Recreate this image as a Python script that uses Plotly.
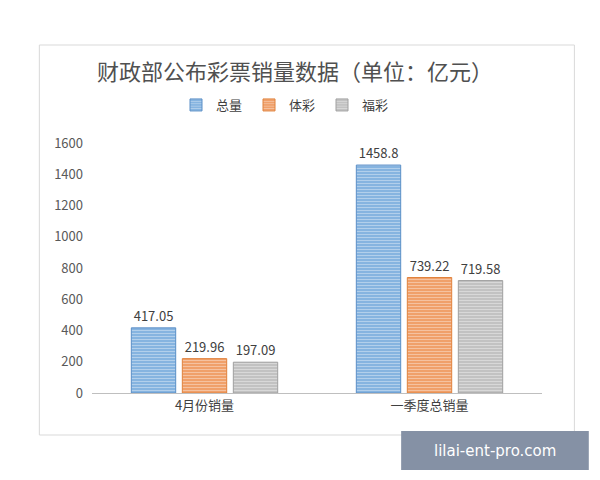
import plotly.graph_objects as go

categories = ["4月份销量", "一季度总销量"]
series_names = ["总量", "体彩", "福彩"]
total = [417.05, 1458.8]
sports = [219.96, 739.22]
welfare = [197.09, 719.58]
y_ticks = [0, 200, 400, 600, 800, 1000, 1200, 1400, 1600]

fills = ["#86B4E0", "#F0A06A", "#C2C2C2"]
edges = ["#5B8FC7", "#E0823D", "#A0A0A0"]

font_cn = "Microsoft YaHei, Noto Sans CJK SC, sans-serif"

fig = go.Figure()
for name, vals, fc, ec in zip(series_names, [total, sports, welfare], fills, edges):
   fig.add_trace(go.Bar(
      x=categories, y=vals, name=name,
      text=[f"{v:g}" for v in vals], textposition="outside",
      textfont=dict(size=13, color="#404040"),
      cliponaxis=False,
      marker=dict(
         color=fc,
         line=dict(color=ec, width=1),
         pattern=dict(shape="-", fgcolor="rgba(255,255,255,0.8)", size=3, solidity=0.3, fillmode="overlay")
      )
   ))

# page body adds ~8px offset, so margins are shifted up/left by 8
fig.update_layout(
   width=600, height=480,
   paper_bgcolor="white", plot_bgcolor="white",
   margin=dict(l=84, r=66, t=135, b=95, autoexpand=False),
   font=dict(family=font_cn, color="#595959"),
   barmode="group", bargap=0.32, bargroupgap=0.13,
   showlegend=True,
   legend=dict(orientation="h", x=0.43, xanchor="center", y=1.152, yanchor="middle",
               font=dict(size=13, color="#404040"), itemwidth=30, entrywidth=28,
               traceorder="normal", bgcolor="rgba(0,0,0,0)"),
   xaxis=dict(showline=True, linecolor="#BFBFBF", linewidth=1, ticks="",
              tickfont=dict(size=13, color="#404040")),
   yaxis=dict(range=[0, 1600], tickvals=y_ticks, showgrid=False, zeroline=False,
              showline=False, tickfont=dict(size=13, color="#595959"), ticklabelstandoff=8),
   shapes=[
      dict(type="rect", xref="paper", yref="paper", x0=-0.117, x1=1.072, y0=-0.168, y1=1.392,
           line=dict(color="#D9D9D9", width=1), layer="below"),
      dict(type="rect", xref="paper", yref="paper", x0=0.687, x1=1.104, y0=-0.308, y1=-0.152,
           fillcolor="#8591A5", line=dict(width=0), layer="above"),
   ],
   annotations=[
      dict(text="财政部公布彩票销量数据（单位：亿元）", xref="paper", yref="paper", x=0.45, y=1.292,
           xanchor="center", yanchor="middle", showarrow=False,
           font=dict(size=22, color="#505050", family=font_cn)),
      dict(text="lilai-ent-pro.com", xref="paper", yref="paper", x=0.895, y=-0.23,
           xanchor="center", yanchor="middle", showarrow=False,
           font=dict(size=15, color="white", family="DejaVu Sans, sans-serif")),
   ],
)

fig.write_html("out.html")
